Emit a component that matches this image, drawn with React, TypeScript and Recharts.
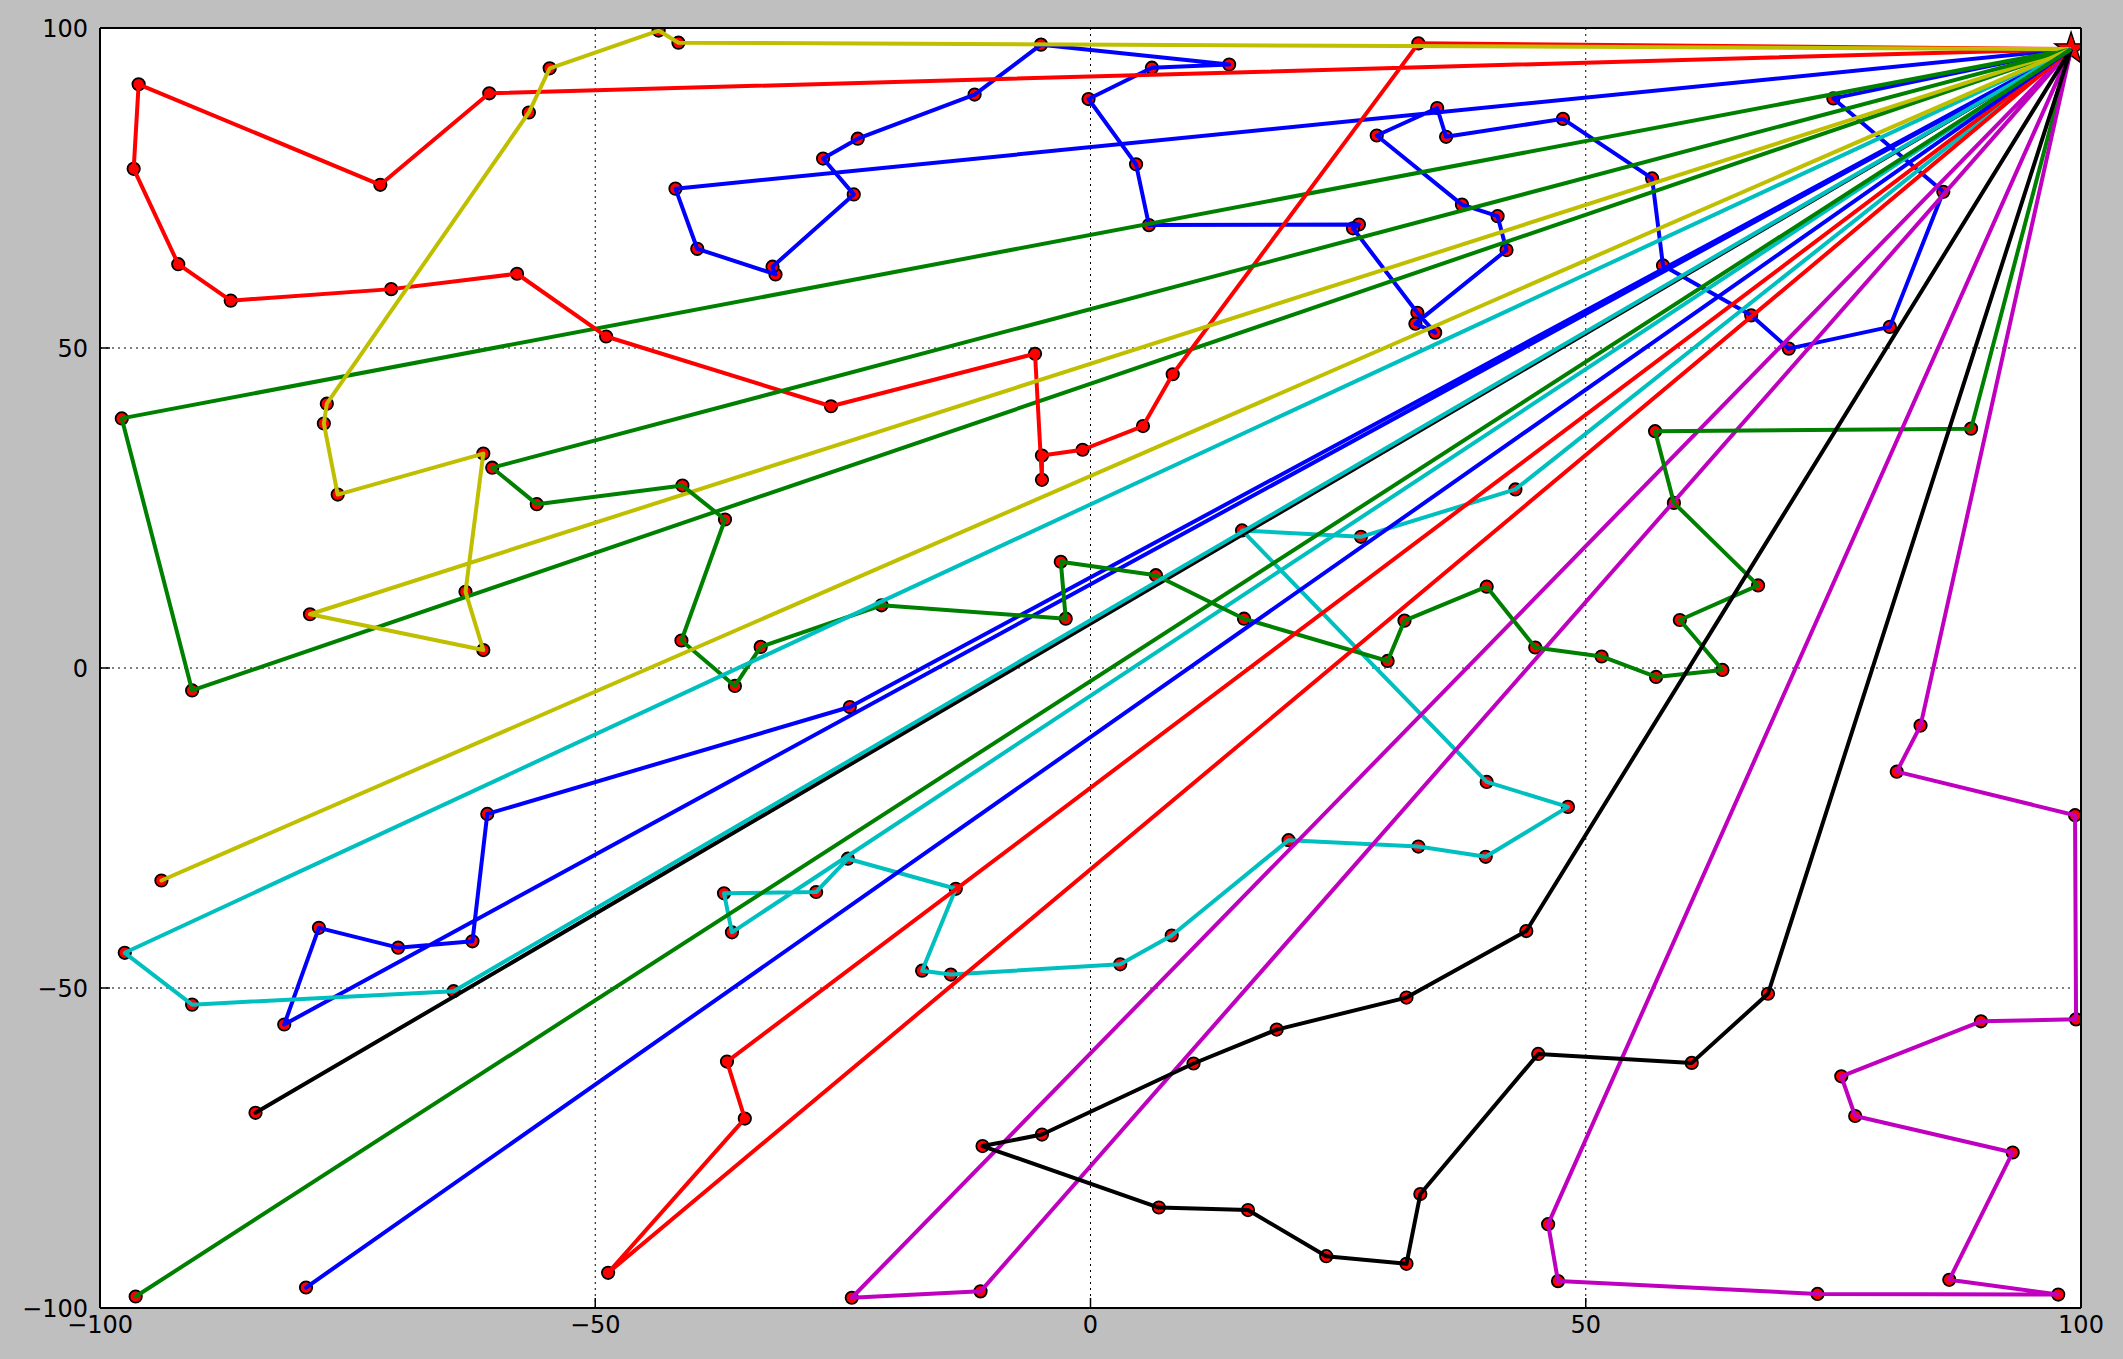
import React from 'react';
import { ComposedChart, Line, Scatter, XAxis, YAxis, CartesianGrid } from 'recharts';

type Pt = [number, number];

// depot (red star) and the tick values
const DEPOT: Pt = [99, 96.7];
const TICKS = [-100, -50, 0, 50, 100];

// matplotlib classic cycle: b g r c m y k
const COLORS = ['#0000ff', '#008000', '#ff0000', '#00bfbf', '#bf00bf', '#bfbf00', '#000000'];

// routes, customers in visiting order (depot added at both ends)
const route01: Pt[] = [
  [-41.9, 74.9], [-39.7, 65.5], [-31.8, 61.5], [-32.1, 62.7], [-23.9, 74.0], [-27.0, 79.6],
  [-23.5, 82.7], [-11.7, 89.6], [-5.0, 97.4], [14.0, 94.3], [6.2, 93.8], [-0.2, 88.9],
  [4.6, 78.7], [5.9, 69.2], [27.1, 69.3], [26.5, 68.7], [33.0, 55.5], [34.8, 52.4],
  [32.8, 53.8], [42.0, 65.3], [41.1, 70.6], [37.5, 72.4], [28.9, 83.2], [35.0, 87.5],
  [35.9, 83.0], [47.7, 85.8], [56.7, 76.5], [57.8, 62.9], [66.7, 55.1], [70.5, 49.9],
  [80.7, 53.3], [86.1, 74.4], [75.0, 89.0],
];
const route02: Pt[] = [[-97.8, 39.0], [-90.7, -3.5]];
const route03: Pt[] = [
  [-60.7, 89.8], [-71.7, 75.5], [-96.1, 91.2], [-96.6, 78.0], [-92.1, 63.1], [-86.8, 57.4],
  [-70.6, 59.2], [-57.9, 61.6], [-48.9, 51.8], [-26.2, 40.9], [-5.6, 49.1], [-4.9, 29.4],
  [-4.9, 33.2], [-0.8, 34.1], [5.3, 37.8], [8.3, 45.9], [33.1, 97.6],
];
const route04: Pt[] = [
  [42.9, 27.9], [27.3, 20.5], [15.3, 21.5], [40.0, -17.8], [48.2, -21.7], [39.9, -29.5],
  [33.1, -27.9], [20.0, -26.9], [8.2, -41.8], [3.0, -46.3], [-14.1, -47.9], [-17.0, -47.3],
  [-13.6, -34.5], [-24.5, -29.8], [-27.7, -35.0], [-37.0, -35.2], [-36.2, -41.3],
];
const route05: Pt[] = [[-24.1, -98.4], [-11.1, -97.4]];
const route06: Pt[] = [
  [-41.6, 97.7], [-43.6, 99.6], [-54.6, 93.7], [-56.7, 86.8], [-77.1, 41.3], [-77.4, 38.2],
  [-76.0, 27.1], [-61.3, 33.5], [-63.1, 11.9], [-61.3, 2.8], [-78.8, 8.4],
];
const route07: Pt[] = [[-84.3, -69.5]];
const route08: Pt[] = [
  [-24.3, -6.1], [-60.9, -22.8], [-62.4, -42.7], [-69.9, -43.7], [-77.9, -40.6], [-81.4, -55.7],
];
const route09: Pt[] = [
  [-60.4, 31.3], [-55.9, 25.6], [-41.2, 28.5], [-36.9, 23.2], [-41.3, 4.3], [-35.9, -2.8],
  [-33.3, 3.3], [-21.1, 9.8], [-2.5, 7.7], [-3.0, 16.6], [6.6, 14.5], [15.5, 7.7],
  [30.0, 1.1], [31.7, 7.4], [40.0, 12.7], [44.9, 3.2], [51.6, 1.8], [57.1, -1.4],
  [63.8, -0.3], [59.5, 7.5], [67.4, 12.9], [58.9, 25.8], [57.0, 37.0], [88.9, 37.4],
];
const route10: Pt[] = [[-36.7, -61.5], [-34.9, -70.4], [-48.7, -94.5]];
const route11: Pt[] = [[-97.5, -44.5], [-90.7, -52.6], [-64.3, -50.5]];
const route12: Pt[] = [
  [46.2, -86.9], [47.2, -95.8], [73.4, -97.8], [97.7, -97.9], [86.7, -95.6], [93.1, -75.7],
  [77.2, -70.0], [75.8, -63.8], [89.9, -55.2], [99.5, -54.9], [99.4, -23.0], [81.4, -16.2],
  [83.8, -9.0],
];
const route13: Pt[] = [[-93.8, -33.2]];
const route14: Pt[] = [
  [44.0, -41.1], [31.9, -51.5], [18.8, -56.5], [10.4, -61.8], [-4.9, -72.9], [-10.9, -74.7],
  [6.9, -84.3], [15.9, -84.7], [23.8, -91.9], [31.9, -93.1], [33.3, -82.2], [45.2, -60.3],
  [60.7, -61.7], [68.4, -50.9],
];
const route15: Pt[] = [[-79.2, -96.8]];
const route16: Pt[] = [[-96.4, -98.2]];

const ROUTES = [
  route01, route02, route03, route04, route05, route06, route07, route08,
  route09, route10, route11, route12, route13, route14, route15, route16,
];

const W = 2123;
const H = 1359;
const PLOT = { left: 100, top: 28, right: 2081, bottom: 1308 };
const FONT = '"DejaVu Sans", sans-serif';

const rows = (pts: Pt[]) => pts.map(([x, y]) => ({ x, y }));
const customers = rows(ROUTES.flat());

const fmt = (v: number) => (v < 0 ? `\u2212${Math.abs(v)}` : `${v}`);

const Dot = (props: any) => (
  <circle cx={props.cx} cy={props.cy} r={6.2} fill="#ff0000" stroke="#000" strokeWidth={1.8} />
);

const Star = (props: any) => {
  const { cx, cy } = props;
  const R = 17;
  const r = R * 0.382;
  const pts: string[] = [];
  for (let i = 0; i < 10; i++) {
    const a = -Math.PI / 2 + (i * Math.PI) / 5;
    const rad = i % 2 === 0 ? R : r;
    pts.push(`${cx + rad * Math.cos(a)},${cy + rad * Math.sin(a)}`);
  }
  return (
    <g>
      <defs>
        <clipPath id="plot-clip">
          <rect x={PLOT.left} y={PLOT.top} width={PLOT.right - PLOT.left} height={PLOT.bottom - PLOT.top} />
        </clipPath>
      </defs>
      <polygon points={pts.join(' ')} fill="#ff0000" stroke="#000" strokeWidth={1.4} clipPath="url(#plot-clip)" />
    </g>
  );
};

const tickStyle = { fontFamily: FONT, fontSize: 24, fill: '#000' };
const axisLine = { stroke: '#000', strokeWidth: 2 };
const tickLine = { stroke: '#000', strokeWidth: 1.5 };

export default function App() {
  return (
    <div style={{ position: 'absolute', left: 0, top: 0, width: W, height: H, background: '#bfbfbf' }}>
      <ComposedChart
        width={W}
        height={H}
        margin={{ top: PLOT.top - 1, right: W - PLOT.right - 1, bottom: 0, left: 0 }}
      >
        <CartesianGrid stroke="#000" strokeWidth={1} strokeDasharray="2 4" fill="#ffffff" fillOpacity={1} />
        <XAxis
          type="number"
          dataKey="x"
          domain={[-100, 100]}
          ticks={TICKS}
          allowDataOverflow
          height={H - PLOT.bottom}
          tickFormatter={fmt}
          tick={tickStyle}
          tickSize={-10}
          tickMargin={18}
          axisLine={axisLine}
          tickLine={tickLine}
        />
        <XAxis
          xAxisId="top"
          orientation="top"
          type="number"
          domain={[-100, 100]}
          ticks={TICKS}
          allowDataOverflow
          height={1}
          tick={false}
          tickSize={-10}
          axisLine={axisLine}
          tickLine={tickLine}
        />
        <YAxis
          type="number"
          dataKey="y"
          domain={[-100, 100]}
          ticks={TICKS}
          allowDataOverflow
          width={PLOT.left}
          tickFormatter={fmt}
          tick={tickStyle}
          tickSize={-10}
          tickMargin={22}
          axisLine={axisLine}
          tickLine={tickLine}
        />
        <YAxis
          yAxisId="right"
          orientation="right"
          type="number"
          domain={[-100, 100]}
          ticks={TICKS}
          allowDataOverflow
          width={1}
          tick={false}
          tickSize={-10}
          axisLine={axisLine}
          tickLine={tickLine}
        />
        <Scatter data={rows([DEPOT])} shape={Star} isAnimationActive={false} zIndex={350} />
        <Scatter data={customers} shape={Dot} isAnimationActive={false} zIndex={350} />
        {ROUTES.map((r, i) => (
          <Line
            key={i}
            data={rows([DEPOT, ...r, DEPOT])}
            dataKey="y"
            type="linear"
            stroke={COLORS[i % COLORS.length]}
            strokeWidth={4}
            strokeLinejoin="round"
            dot={false}
            activeDot={false}
            isAnimationActive={false}
          />
        ))}
      </ComposedChart>
    </div>
  );
}
